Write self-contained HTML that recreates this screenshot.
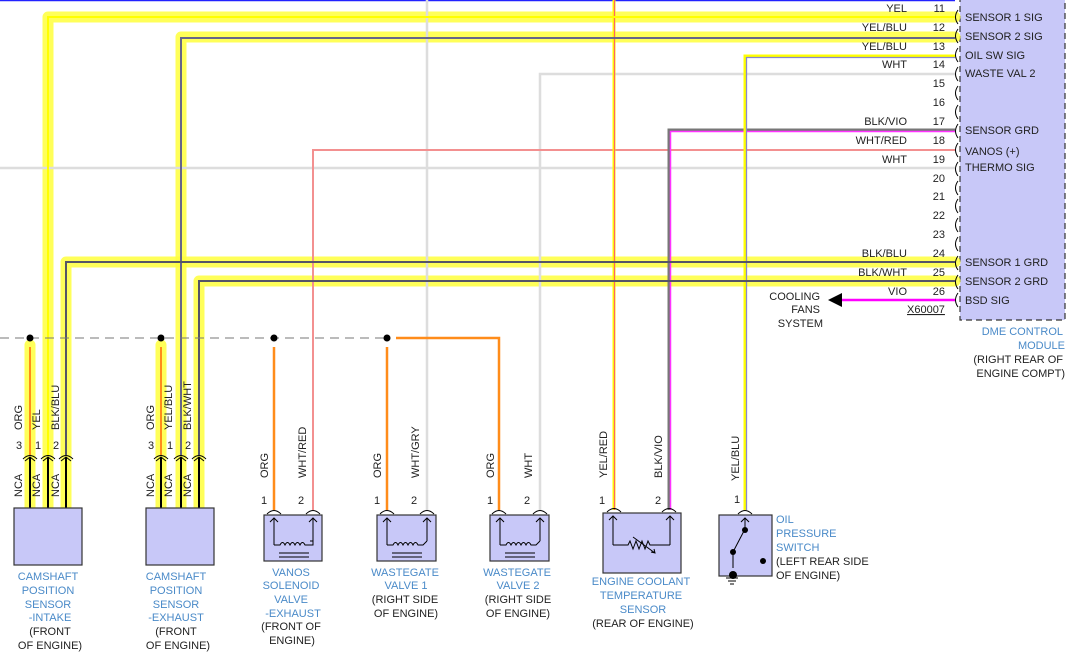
<!DOCTYPE html>
<html><head><meta charset="utf-8"><style>
html,body{margin:0;padding:0;background:#fff;}
svg{display:block;font-family:"Liberation Sans",Arial,sans-serif;}
.t{font-size:11px;fill:#222;}
.b{font-size:11px;fill:#4a8ac8;}
.hl{fill:none;stroke:#ffff3c;stroke-opacity:0.85;stroke-width:11;stroke-linejoin:round;stroke-linecap:round;}
.bx{fill:#c8c8f8;stroke:#333;stroke-width:1.2;}
.k{fill:none;stroke:#000;stroke-width:1;}
</style></head><body>
<svg width="1077" height="662" viewBox="0 0 1077 662" xmlns="http://www.w3.org/2000/svg">
<!-- module box -->
<rect x="960" y="-2" width="105" height="322" fill="#c8c8f8" stroke="#333" stroke-width="1.2" stroke-dasharray="6,4"/>
<!-- top blue line -->
<line x1="0" y1="0.5" x2="955" y2="0.5" stroke="#2222ff" stroke-width="1.5"/>

<!-- highlights -->
<path class="hl" d="M955,17 H48 V508"/>
<path class="hl" d="M955,37 H181 V508"/>
<path class="hl" d="M955,262 H66 V508"/>
<path class="hl" d="M955,281 H199 V508"/>
<path class="hl" d="M30,345 V508"/>
<path class="hl" d="M161,345 V508"/>

<!-- plain wires -->
<line x1="0" y1="168" x2="955" y2="168" stroke="#dddddd" stroke-width="2.5"/>
<path d="M955,74 H540 V510" fill="none" stroke="#dddddd" stroke-width="2.5"/>
<line x1="427" y1="0" x2="427" y2="510" stroke="#dddddd" stroke-width="2.5"/>
<path d="M955,150 H313 V510" fill="none" stroke="#f39090" stroke-width="2"/>
<path d="M955,130 H669 V510" fill="none" stroke="#777" stroke-width="3"/>
<path d="M955,131.5 H670.5 V510" fill="none" stroke="#ff33ff" stroke-width="1.5"/>
<path d="M955,56 H745 V510" fill="none" stroke="#ffff00" stroke-width="3"/>
<path d="M955,57.5 H746.5 V510" fill="none" stroke="#8888cc" stroke-width="1.3"/>
<line x1="614" y1="0" x2="614" y2="510" stroke="#ffff00" stroke-width="3"/>
<line x1="614.5" y1="0" x2="614.5" y2="510" stroke="#ff6666" stroke-width="1.2"/>
<line x1="840" y1="300" x2="955" y2="300" stroke="#ff00ff" stroke-width="2.5"/>
<polygon points="828,300 842,293 842,307" fill="#000"/>

<!-- wire cores in highlights -->
<path d="M955,17 H48 V455" fill="none" stroke="#ffff00" stroke-width="2"/>
<path d="M955,38 H181 V455" fill="none" stroke="#666688" stroke-width="2"/>
<path d="M955,262 H66 V455" fill="none" stroke="#555566" stroke-width="2"/>
<path d="M955,281 H199 V455" fill="none" stroke="#555566" stroke-width="2"/>
<line x1="30" y1="347" x2="30" y2="455" stroke="#ff8c1a" stroke-width="2"/>
<line x1="161" y1="347" x2="161" y2="455" stroke="#ff8c1a" stroke-width="2"/>
<g stroke="#000" stroke-width="2">
<line x1="30" y1="457" x2="30" y2="508"/><line x1="48" y1="457" x2="48" y2="508"/><line x1="66" y1="457" x2="66" y2="508"/>
<line x1="161" y1="457" x2="161" y2="508"/><line x1="181" y1="457" x2="181" y2="508"/><line x1="199" y1="457" x2="199" y2="508"/>
</g>
<!-- orange wires -->
<g stroke="#ff8c1a" stroke-width="2.5" fill="none">
<line x1="274" y1="347" x2="274" y2="510"/>
<line x1="387" y1="347" x2="387" y2="510"/>
<path d="M396,338 H499 V510"/>
</g>
<!-- dashed line -->
<line x1="0" y1="338" x2="385" y2="338" stroke="#777" stroke-width="1" stroke-dasharray="9,6"/>
<g fill="#000"><circle cx="30" cy="338" r="3.5"/><circle cx="161" cy="338" r="3.5"/><circle cx="274" cy="338" r="3.5"/><circle cx="387" cy="338" r="3.5"/></g>

<!-- connector arcs on module -->
<g fill="none" stroke="#000" stroke-width="1">
<path d="M958,10 q-5,7 0,14"/><path d="M958,29 q-5,7 0,14"/><path d="M958,48 q-5,7 0,14"/><path d="M958,67 q-5,7 0,14"/>
<path d="M958,86 q-5,7 0,14"/><path d="M958,105 q-5,7 0,14"/><path d="M958,124 q-5,7 0,14"/><path d="M958,143 q-5,7 0,14"/>
<path d="M958,162 q-5,7 0,14"/><path d="M958,181 q-5,7 0,14"/><path d="M958,199 q-5,7 0,14"/><path d="M958,218 q-5,7 0,14"/>
<path d="M958,237 q-5,7 0,14"/><path d="M958,256 q-5,7 0,14"/><path d="M958,275 q-5,7 0,14"/><path d="M958,293 q-5,7 0,14"/>
</g>
<!-- pin numbers & labels -->
<g class="t" text-anchor="end">
<text x="945" y="12">11</text><text x="945" y="31">12</text><text x="945" y="50">13</text><text x="945" y="68">14</text>
<text x="945" y="87">15</text><text x="945" y="106">16</text><text x="945" y="125">17</text><text x="945" y="144">18</text>
<text x="945" y="163">19</text><text x="945" y="182">20</text><text x="945" y="200">21</text><text x="945" y="219">22</text>
<text x="945" y="238">23</text><text x="945" y="257">24</text><text x="945" y="276">25</text><text x="945" y="295">26</text>
<text x="907" y="12">YEL</text><text x="907" y="31">YEL/BLU</text><text x="907" y="50">YEL/BLU</text><text x="907" y="68">WHT</text>
<text x="907" y="125">BLK/VIO</text><text x="907" y="144">WHT/RED</text><text x="907" y="163">WHT</text>
<text x="907" y="257">BLK/BLU</text><text x="907" y="276">BLK/WHT</text><text x="907" y="295">VIO</text>
<text x="820" y="300">COOLING</text><text x="820" y="313">FANS</text><text x="823" y="327">SYSTEM</text>
</g>
<text class="t" x="907" y="313" text-decoration="underline">X60007</text>
<g class="t">
<text x="965" y="21">SENSOR 1 SIG</text><text x="965" y="40">SENSOR 2 SIG</text><text x="965" y="59">OIL SW SIG</text>
<text x="965" y="77">WASTE VAL 2</text><text x="965" y="134">SENSOR GRD</text><text x="965" y="155">VANOS (+)</text>
<text x="965" y="171">THERMO SIG</text><text x="965" y="266">SENSOR 1 GRD</text><text x="965" y="285">SENSOR 2 GRD</text>
<text x="965" y="304">BSD SIG</text>
</g>
<g text-anchor="end">
<text class="b" x="1063" y="335">DME CONTROL</text><text class="b" x="1065" y="349">MODULE</text>
<text class="t" x="1063" y="363">(RIGHT REAR OF</text><text class="t" x="1065" y="377">ENGINE COMPT)</text>
</g>

<!-- component boxes -->
<rect class="bx" x="14" y="508" width="68" height="57"/>
<rect class="bx" x="146" y="508" width="68" height="57"/>
<rect class="bx" x="264" y="515" width="58" height="46"/>
<rect class="bx" x="377" y="515" width="59" height="46"/>
<rect class="bx" x="490" y="515" width="59" height="46"/>
<rect class="bx" x="603" y="513" width="78" height="60"/>
<rect class="bx" x="719" y="515" width="53" height="61"/>

<!-- connector arcs above boxes -->
<g fill="none" stroke="#000" stroke-width="1">
<path d="M23,459 q7,-7 14,0 M25,461 l5,-4 l5,4"/><path d="M41,459 q7,-7 14,0 M43,461 l5,-4 l5,4"/><path d="M59,459 q7,-7 14,0 M61,461 l5,-4 l5,4"/>
<path d="M154,459 q7,-7 14,0 M156,461 l5,-4 l5,4"/><path d="M174,459 q7,-7 14,0 M176,461 l5,-4 l5,4"/><path d="M192,459 q7,-7 14,0 M194,461 l5,-4 l5,4"/>
<path d="M267,514 q7,-7 14,0"/><path d="M306,514 q7,-7 14,0"/>
<path d="M380,514 q7,-7 14,0"/><path d="M420,514 q7,-7 14,0"/>
<path d="M492,514 q7,-7 14,0"/><path d="M533,514 q7,-7 14,0"/>
<path d="M607,512 q7,-7 14,0"/><path d="M662,512 q7,-7 14,0"/>
<path d="M738,514 q7,-7 14,0"/>
</g>
<!-- solenoid symbols -->
<g class="k">
<path d="M274,545 V518 M270,522 l4,-4 l4,4 M313,518 V541 H310 M309,522 l4,-4 l4,4"/>
<path d="M274,545 H280 q2.5,-5 5,0 q2.5,-5 5,0 q2.5,-5 5,0 q2.5,-5 5,0 q2.5,-5 5,0 H313 V541"/>
<path d="M279,553 H309 M279,557 H309"/>
<path d="M387,545 V518 M383,522 l4,-4 l4,4 M427,518 V541 M423,522 l4,-4 l4,4"/>
<path d="M387,545 H393 q2.5,-5 5,0 q2.5,-5 5,0 q2.5,-5 5,0 q2.5,-5 5,0 q2.5,-5 5,0 H423 L427,541"/>
<path d="M392,553 H422 M392,557 H422"/>
<path d="M500,545 V518 M496,522 l4,-4 l4,4 M540,518 V541 M536,522 l4,-4 l4,4"/>
<path d="M500,545 H506 q2.5,-5 5,0 q2.5,-5 5,0 q2.5,-5 5,0 q2.5,-5 5,0 q2.5,-5 5,0 H536 L540,541"/>
<path d="M505,553 H535 M505,557 H535"/>
<!-- thermistor -->
<path d="M613,545 V516 M609,520 l4,-4 l4,4 M670,516 V545 M666,520 l4,-4 l4,4"/>
<path d="M613,545 H628 l2,-4 l3,8 l3,-8 l3,8 l3,-8 l3,8 l3,-8 l2,4 H670"/>
<path d="M633,537 L655,553 M651,552 l4,1 l-1,-4"/>
<!-- switch -->
<path d="M745,518 V529 M741,522 l4,-4 l4,4 M745,529 L733,552 V568"/>
<path d="M726,578 H738 M728,581 H736 M730,584 H734"/>
</g>
<g fill="#000"><circle cx="745" cy="530" r="3"/><circle cx="733" cy="552" r="3"/><circle cx="763" cy="561" r="3"/><circle cx="733" cy="575" r="4"/></g>

<!-- rotated wire labels -->
<g class="t">
<text transform="translate(22,430) rotate(-90)">ORG</text>
<text transform="translate(40,430) rotate(-90)">YEL</text>
<text transform="translate(59,430) rotate(-90)">BLK/BLU</text>
<text transform="translate(154,430) rotate(-90)">ORG</text>
<text transform="translate(172,430) rotate(-90)">YEL/BLU</text>
<text transform="translate(191,430) rotate(-90)">BLK/WHT</text>
<text transform="translate(22,497) rotate(-90)">NCA</text>
<text transform="translate(40,497) rotate(-90)">NCA</text>
<text transform="translate(59,497) rotate(-90)">NCA</text>
<text transform="translate(154,497) rotate(-90)">NCA</text>
<text transform="translate(172,497) rotate(-90)">NCA</text>
<text transform="translate(191,497) rotate(-90)">NCA</text>
<text transform="translate(268,478) rotate(-90)">ORG</text>
<text transform="translate(306,478) rotate(-90)">WHT/RED</text>
<text transform="translate(381,478) rotate(-90)">ORG</text>
<text transform="translate(419,478) rotate(-90)">WHT/GRY</text>
<text transform="translate(494,478) rotate(-90)">ORG</text>
<text transform="translate(532,478) rotate(-90)">WHT</text>
<text transform="translate(607,478) rotate(-90)">YEL/RED</text>
<text transform="translate(662,478) rotate(-90)">BLK/VIO</text>
<text transform="translate(739,481) rotate(-90)">YEL/BLU</text>
<text x="16" y="449">3</text><text x="35" y="449">1</text><text x="53" y="449">2</text>
<text x="148" y="449">3</text><text x="167" y="449">1</text><text x="185" y="449">2</text>
<text x="261" y="504">1</text><text x="298" y="504">2</text>
<text x="374" y="504">1</text><text x="411" y="504">2</text>
<text x="487" y="504">1</text><text x="524" y="504">2</text>
<text x="599" y="504">1</text><text x="655" y="504">2</text>
<text x="734" y="503">1</text>
</g>

<!-- component labels -->
<g text-anchor="middle">
<text class="b" x="48" y="580">CAMSHAFT</text><text class="b" x="48" y="594">POSITION</text><text class="b" x="48" y="608">SENSOR</text><text class="b" x="50" y="621">-INTAKE</text>
<text class="t" x="50" y="635">(FRONT</text><text class="t" x="50" y="649">OF ENGINE)</text>
<text class="b" x="176" y="580">CAMSHAFT</text><text class="b" x="176" y="594">POSITION</text><text class="b" x="176" y="608">SENSOR</text><text class="b" x="176" y="621">-EXHAUST</text>
<text class="t" x="176" y="635">(FRONT</text><text class="t" x="178" y="649">OF ENGINE)</text>
<text class="b" x="291" y="576">VANOS</text><text class="b" x="291" y="589">SOLENOID</text><text class="b" x="291" y="603">VALVE</text><text class="b" x="293" y="617">-EXHAUST</text>
<text class="t" x="291" y="630">(FRONT OF</text><text class="t" x="292" y="644">ENGINE)</text>
<text class="b" x="405" y="576">WASTEGATE</text><text class="b" x="406" y="589">VALVE 1</text>
<text class="t" x="405" y="603">(RIGHT SIDE</text><text class="t" x="406" y="617">OF ENGINE)</text>
<text class="b" x="517" y="576">WASTEGATE</text><text class="b" x="518" y="589">VALVE 2</text>
<text class="t" x="518" y="603">(RIGHT SIDE</text><text class="t" x="518" y="617">OF ENGINE)</text>
<text class="b" x="641" y="585">ENGINE COOLANT</text><text class="b" x="641" y="599">TEMPERATURE</text><text class="b" x="643" y="613">SENSOR</text>
<text class="t" x="643" y="627">(REAR OF ENGINE)</text>
</g>
<text class="b" x="776" y="523">OIL</text><text class="b" x="776" y="537">PRESSURE</text><text class="b" x="776" y="551">SWITCH</text>
<text class="t" x="776" y="565">(LEFT REAR SIDE</text><text class="t" x="776" y="579">OF ENGINE)</text>
</svg>
</body></html>
